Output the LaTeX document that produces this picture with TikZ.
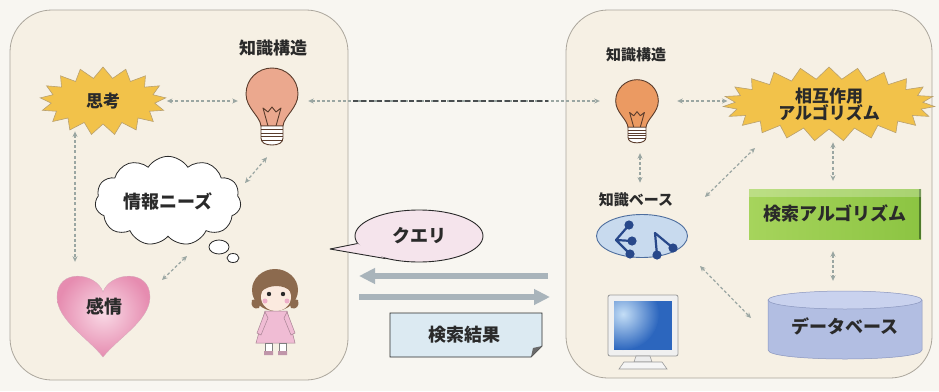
\documentclass[tikz,border=0pt]{standalone}
\usepackage{fontspec}
\setmainfont{Noto Sans CJK JP}
\usetikzlibrary{shapes.symbols,shapes.geometric,arrows.meta,calc,shadings}

\definecolor{pagebg}{HTML}{F8F6F1}
\definecolor{panelbg}{HTML}{F6F0E4}
\definecolor{panelline}{HTML}{ABA69C}
\definecolor{txt}{HTML}{2A2A2A}
\definecolor{burst}{HTML}{F2C24A}
\definecolor{burstline}{HTML}{B8A070}
\definecolor{conncol}{HTML}{9AA6A2}
\definecolor{darkdash}{HTML}{4A4E50}
\definecolor{bulbA}{HTML}{EBA88E}
\definecolor{bulbB}{HTML}{EB9A62}
\definecolor{bulbline}{HTML}{5A3C2C}
\definecolor{heartout}{HTML}{E68CB0}
\definecolor{heartin}{HTML}{F9DAE6}
\definecolor{querybg}{HTML}{F5E4EC}
\definecolor{resultbg}{HTML}{DCEAF2}
\definecolor{bigarrow}{HTML}{A9B4BB}
\definecolor{kbfill}{HTML}{C8DAEE}
\definecolor{kbline}{HTML}{4E6E9E}
\definecolor{kbdot}{HTML}{28488A}
\definecolor{greenA}{HTML}{A6D45C}
\definecolor{greenB}{HTML}{8CC442}
\definecolor{greenedge}{HTML}{4E7A2A}
\definecolor{dbfill}{HTML}{B2BEE2}
\definecolor{dbtop}{HTML}{C9D2EE}
\definecolor{dbline}{HTML}{8A96BE}
\definecolor{hair}{HTML}{8C6A4E}
\definecolor{skin}{HTML}{FBEADF}
\definecolor{dress}{HTML}{F0BCD4}
\definecolor{screen}{HTML}{2C66BE}
\definecolor{screenhi}{HTML}{C4DEF6}

\tikzset{
  panel/.style={draw=panelline, line width=0.8pt, fill=panelbg, rounded corners=42pt, inner sep=0pt},
  lab/.style={font=\bfseries\fontsize{17}{19}\selectfont, text=txt, inner sep=1pt},
  burstnode/.style={shape=starburst, random starburst=0, draw=burstline, fill=burst, line width=0.6pt,
    font=\bfseries\fontsize{17}{20}\selectfont, text=txt, align=center, inner sep=0pt},
  conn/.style={<->, >={Stealth[length=5.5pt,width=5pt]}, draw=conncol, line width=1.2pt,
    dash pattern=on 3pt off 2.2pt},
  darkconn/.style={draw=darkdash, line width=2.8pt, dash pattern=on 5pt off 3pt},
  bigarr/.style={-{Triangle[length=16pt,width=15pt]}, draw=bigarrow, line width=6pt},
  pics/bulb/.style={code={
    \draw[draw=bulbline, line width=0.9pt, fill=#1]
      (-11,32) .. controls (-12,22) and (-26,14) .. (-26,0)
      .. controls (-26,-15) and (-14,-26) .. (0,-26)
      .. controls (14,-26) and (26,-15) .. (26,0)
      .. controls (26,14) and (12,22) .. (11,32) -- cycle;
    \draw[draw=bulbline, line width=0.9pt, line join=round]
      (-4,32) -- (-9,14) -- (-4,18) -- (0,13) -- (4,18) -- (9,14) -- (4,32);
    \draw[draw=bulbline, line width=0.9pt, fill=white]
      (-11,32) -- (11,32) -- (11,44) .. controls (11,49) and (6,51) .. (0,51)
      .. controls (-6,51) and (-11,49) .. (-11,44) -- cycle;
    \foreach \yy in {35.5,39,42.5,46} \draw[draw=bulbline, line width=0.8pt] (-11,\yy) -- (11,\yy);
  }}
}

\begin{document}
\begin{tikzpicture}[x=1pt, y=-1pt]
\useasboundingbox (0,0) rectangle (939,391);
\fill[pagebg] (0,0) rectangle (939,391);

% the two panels: user side and system side
\node[panel, minimum width=338pt, minimum height=370pt] (lpanel) at (179,195) {};
\node[panel, minimum width=366pt, minimum height=368pt] (rpanel) at (749,194) {};

% ---------- user side ----------
\node[lab] (lks) at (273,48) {知識構造};
\pic at (272,94) {bulb=bulbA};
\node[minimum width=54pt, minimum height=88pt, inner sep=0pt] (lbulb) at (272,101) {};

\node[burstnode, minimum width=126pt, minimum height=68pt, starburst points=17,
      starburst point height=11pt] (think) at (103,101) {思考};

% thought cloud with trailing puffs
\node[cloud, cloud puffs=11, cloud puff arc=115, aspect=1.9, draw=txt, fill=white,
      line width=0.8pt, minimum width=146pt, minimum height=82pt,
      font=\bfseries\fontsize{18}{20}\selectfont, text=txt] (cloud) at (168,201) {情報ニーズ};
\draw[draw=txt, line width=0.8pt, fill=white] (219,247) ellipse (10pt and 7pt);
\draw[draw=txt, line width=0.8pt, fill=white] (233,258) ellipse (6pt and 4.5pt);

% heart
\shade[inner color=heartin, outer color=heartout, draw=heartout!80!black!60, line width=0.3pt]
  (103,292) .. controls (96,272) and (57,268) .. (57,297)
  .. controls (57,320) and (88,338) .. (103,357)
  .. controls (118,338) and (150,320) .. (150,297)
  .. controls (150,268) and (110,272) .. (103,292) -- cycle;
\node[font=\bfseries\fontsize{18}{20}\selectfont, text=txt, minimum height=66pt] (heart) at (104,307) {感情};

% the user
\fill[hair] (275,290) ellipse (23pt and 21pt);
\fill[hair] (252,300) .. controls (250,306) and (254,310) .. (259,308) -- (262,298) -- cycle;
\fill[hair] (298,300) .. controls (300,306) and (296,310) .. (291,308) -- (288,298) -- cycle;
\fill[skin] (276,297) ellipse (15pt and 14pt);
\fill[hair] (261,292) .. controls (262,279) and (290,278) .. (291,292)
  .. controls (285,284) and (268,284) .. (261,292) -- cycle;
\fill[txt] (269,294) circle (2.2pt) (283,294) circle (2.2pt);
\fill[heartout!70] (265,301) circle (2.5pt) (287,301) circle (2.5pt);
\draw[draw=dress!70!black, line width=0.5pt, fill=dress]
  (265,311) -- (287,311) -- (295,343) -- (256,343) -- cycle;
\draw[draw=dress!70!black, line width=0.5pt, fill=dress]
  (265,312) -- (257,333) -- (261,335) -- (268,318) -- cycle;
\draw[draw=dress!70!black, line width=0.5pt, fill=dress]
  (287,312) -- (295,333) -- (291,335) -- (284,318) -- cycle;
\draw[draw=gray, line width=0.5pt, fill=white] (265,343) rectangle (272,351) (279,343) rectangle (286,351);
\fill[dress!80!black] (264,351) rectangle (273,355) (278,351) rectangle (287,355);

% ---------- exchange between the sides ----------
\coordinate (qtip) at (330,249);
\node[ellipse, draw=txt, line width=0.9pt, fill=querybg, minimum width=128pt, minimum height=52pt,
      font=\bfseries\fontsize{18}{20}\selectfont, text=txt] (query) at (419,236) {クエリ};
\fill[querybg] (query.187) -- (qtip) -- (query.214) -- cycle;
\draw[draw=txt, line width=0.9pt, line join=round] (query.187) -- (qtip) -- (query.214);

\coordinate (inR) at (548,276);
\coordinate (inL) at (359,276);
\coordinate (outL) at (359,297);
\coordinate (outR) at (550,297);
\draw[bigarr] (inR) -- (inL);
\draw[bigarr] (outL) -- (outR);

\draw[draw=txt, line width=0.9pt, fill=resultbg]
  (390,313) -- (542,313) -- (542,346) -- (531,357) -- (390,357) -- cycle;
\fill[txt!70] (542,346) -- (531,357) -- (533,348) -- cycle;
\node[font=\bfseries\fontsize{18}{20}\selectfont, text=txt] (result) at (464,335) {検索結果};

% ---------- system side ----------
\node[lab, font=\bfseries\fontsize{15}{17}\selectfont] (rks) at (636,55) {知識構造};
\pic[scale=0.82] at (637,101) {bulb=bulbB};
\node[minimum width=46pt, minimum height=86pt, inner sep=0pt] (rbulb) at (637,101) {};

\node[burstnode, minimum width=212pt, minimum height=74pt, starburst points=23,
      starburst point height=12pt] (rstar) at (829,104) {相互作用\\[-3pt]アルゴリズム};

\node[lab, font=\bfseries\fontsize{15}{17}\selectfont] (kblab) at (636,200) {知識ベース};

\node[ellipse, draw=kbline, line width=0.9pt, fill=kbfill, minimum width=91pt, minimum height=43pt] (kb) at (642,236) {};
\draw[kbdot, line width=2.2pt, line join=round] (629,225) -- (616,240) -- (632,241) (616,240) -- (630,254);
\draw[kbdot, line width=2.2pt, line join=round] (657,255) -- (655,233) -- (673,248);
\fill[kbdot] (629,225) circle (4.6pt) (632,241) circle (4.6pt) (630,254) circle (4.6pt)
             (657,255) circle (4.6pt) (673,248) circle (4.6pt);

\node[minimum width=172pt, minimum height=50pt, left color=greenA, right color=greenB,
      font=\bfseries\fontsize{18}{20}\selectfont, text=txt] (sbox) at (835,214) {検索アルゴリズム};
\draw[greenedge, line width=2.5pt] ([xshift=-1.25pt]sbox.north east) -- ([xshift=-1.25pt]sbox.south east);
\fill[white, opacity=0.25] (sbox.north west) rectangle ([yshift=-8pt]sbox.north east);

% database cylinder
\fill[dbfill] (768,300) -- (768,350) .. controls (768,362) and (922,362) .. (922,350) -- (922,300) -- cycle;
\draw[dbline, line width=0.5pt] (768,300) -- (768,350) .. controls (768,362) and (922,362) .. (922,350) -- (922,300);
\fill[dbtop, draw=dbline, line width=0.5pt] (845,300) ellipse (77pt and 9pt);
\node[minimum width=154pt, minimum height=66pt, font=\bfseries\fontsize{18}{20}\selectfont, text=txt] (db) at (845,326) {データベース};

% monitor
\draw[draw=gray!80, line width=0.8pt, fill=gray!12, rounded corners=2pt] (608,295) rectangle (678,356);
\fill[screen] (614,301) rectangle (672,350);
\begin{scope}
  \clip (614,301) rectangle (672,350);
  \shade[inner color=screenhi, outer color=screen] (623,314) circle (36pt);
\end{scope}
\draw[draw=gray!80, line width=0.6pt, fill=gray!15] (636,356) -- (650,356) -- (652,362) -- (634,362) -- cycle;
\draw[draw=gray!80, line width=0.6pt, fill=gray!8] (624,362) -- (662,362) -- (667,369) -- (619,369) -- cycle;

% ---------- dashed relations ----------
\draw[conn] ([xshift=7pt]think.east) -- ([xshift=-7pt]lbulb.west |- think.east);
\draw[conn] ([xshift=9pt]lbulb.east) -- ([xshift=-14pt]rbulb.west);
\draw[darkconn] ([xshift=5pt]lpanel.east |- lbulb.center) -- ([xshift=-18pt]rpanel.west |- rbulb.center);
\draw[conn] ([shift={(-5pt,-12pt)}]lbulb.south) -- ([shift={(77pt,18pt)}]cloud.center);
\draw[conn] ([shift={(19pt,-55pt)}]cloud.center) -- ([shift={(58pt,27pt)}]heart.center);
\draw[conn, shorten <=7pt, shorten >=12pt] ([xshift=-28pt]think.south) -- ([xshift=-28pt]think.south |- heart.north);

\draw[conn] ([xshift=17pt]rbulb.east) -- ([xshift=-2pt]rstar.west |- rbulb.east);
\draw[conn, shorten <=9pt, shorten >=9pt] ([xshift=3pt]rbulb.south) -- ([xshift=3pt]rbulb.south |- kblab.north);
\draw[conn] ([shift={(63pt,39pt)}]kb.center) -- ([shift={(-74pt,-44pt)}]rstar.center);
\draw[conn, shorten <=13pt, shorten >=8pt] ([xshift=4pt]rstar.south) -- ([xshift=4pt]rstar.south |- sbox.north);
\draw[conn, shorten <=12pt, shorten >=12pt] ([xshift=-2pt]sbox.south) -- ([xshift=-2pt]sbox.south |- db.north);
\draw[conn] ([shift={(58pt,-30pt)}]kb.center) -- ([shift={(-94pt,8pt)}]db.center);
\end{tikzpicture}
\end{document}
